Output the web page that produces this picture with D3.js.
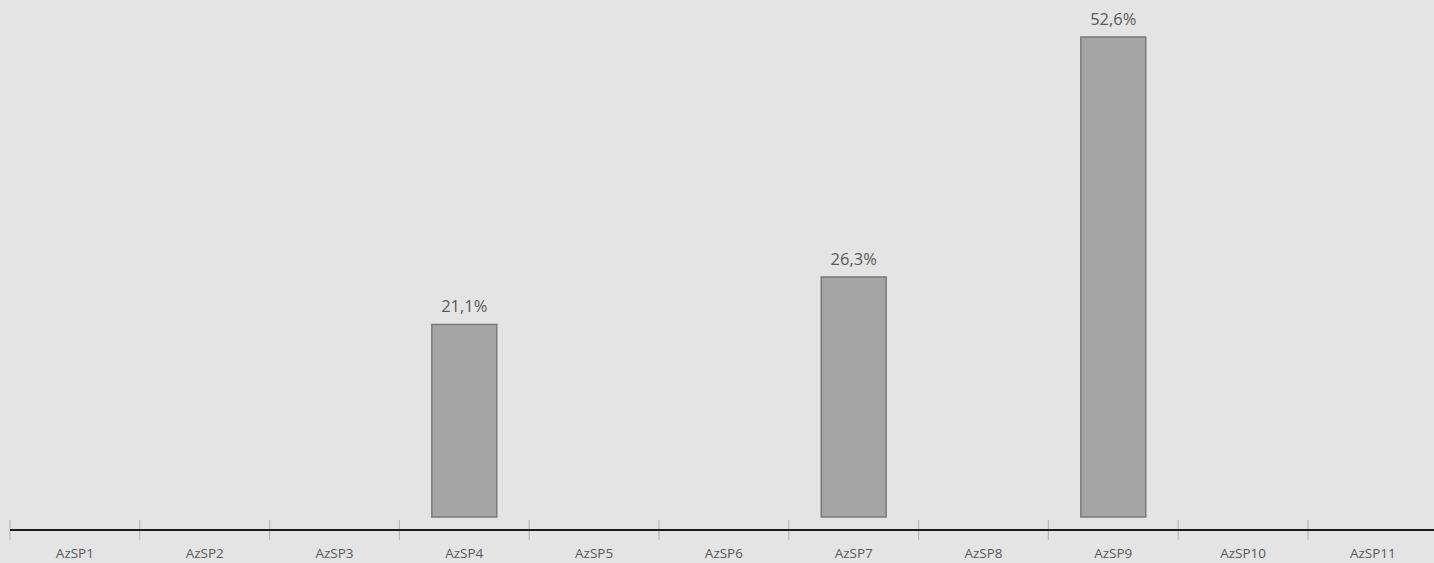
<!DOCTYPE html>
<html><head><meta charset="utf-8">
<script src="https://cdn.jsdelivr.net/npm/d3@7"></script>
<style>html,body{margin:0;padding:0;background:#e4e4e4;}svg{display:block;}</style>
</head><body><svg id="c" width="1434" height="563"></svg>
<script>
const categories = ["AzSP1","AzSP2","AzSP3","AzSP4","AzSP5","AzSP6","AzSP7","AzSP8","AzSP9","AzSP10","AzSP11"];
const values = [0,0,0,21.1,0,0,26.3,0,52.6,0,0];
const valueLabels = ["","","","21,1%","","","26,3%","","52,6%","",""];

const svg = d3.select("#c");
svg.append("rect").attr("width",1434).attr("height",563).attr("fill","#e4e4e4");
const x = d3.scaleBand().domain(categories).range([10, 10 + 11*129.8]).paddingInner(0).paddingOuter(0);
const y = d3.scaleLinear().domain([0, 52.6]).range([517, 37]);
const axisY = 530;

// ticks
svg.append("g").selectAll("line").data(categories).join("line")
  .attr("x1", d => x(d)).attr("x2", d => x(d))
  .attr("y1", axisY-10).attr("y2", axisY+10)
  .attr("stroke","#b8b8b8").attr("stroke-width",1.2);

// bars
const bw = x.bandwidth()*0.5;
const data = categories.map((c,i)=>({c, v: values[i], l: valueLabels[i]})).filter(d=>d.v>0);
svg.append("g").selectAll("rect").data(data).join("rect")
  .attr("x", d => x(d.c) + x.bandwidth()/2 - bw/2)
  .attr("y", d => y(d.v))
  .attr("width", bw)
  .attr("height", d => y(0) - y(d.v))
  .attr("fill","#a5a5a5").attr("stroke","#7a7a7a").attr("stroke-width",1.5);

svg.append("g").selectAll("text").data(data).join("text")
  .attr("x", d => x(d.c) + x.bandwidth()/2)
  .attr("y", d => y(d.v) - 12)
  .attr("text-anchor","middle")
  .attr("font-family","'Open Sans', sans-serif").attr("font-size",16.5)
  .attr("fill","#595959").text(d => d.l);

// axis line
svg.append("line").attr("x1",10).attr("x2",1434).attr("y1",axisY).attr("y2",axisY)
  .attr("stroke","#1a1a1a").attr("stroke-width",1.8);

// category labels
svg.append("g").selectAll("text").data(categories).join("text")
  .attr("x", d => x(d) + x.bandwidth()/2)
  .attr("y", 558)
  .attr("text-anchor","middle")
  .attr("font-family","'Open Sans', sans-serif").attr("font-size",13.5)
  .attr("fill","#595959").text(d => d);
</script></body></html>
